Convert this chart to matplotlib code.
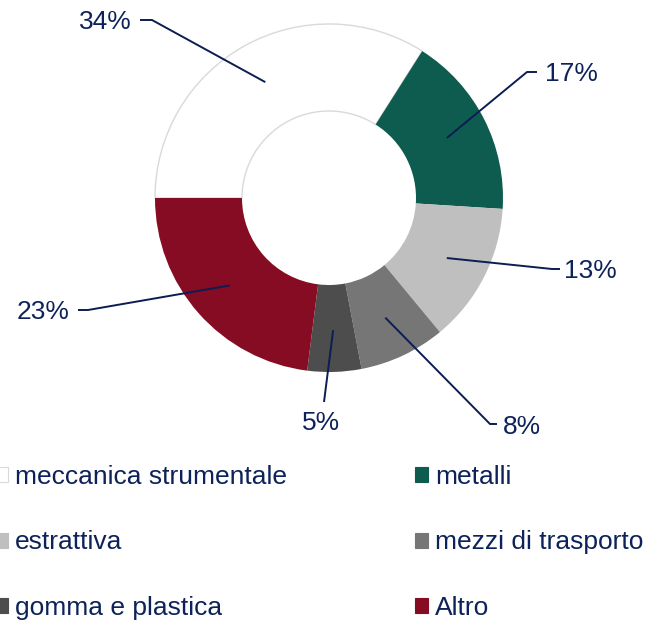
import matplotlib
matplotlib.use("Agg")
import matplotlib.pyplot as plt
import numpy as np
from matplotlib.patches import Patch

plt.rcParams["font.family"] = ["Liberation Sans", "DejaVu Sans"]

# ============================================================
# 数据
# ============================================================
categories = ["meccanica strumentale", "metalli", "estrattiva",
              "mezzi di trasporto", "gomma e plastica", "Altro"]
shares = [34, 17, 13, 8, 5, 23]
colors = ["#ffffff", "#0e5c4f", "#bfbfbf", "#767676", "#4d4d4d", "#850c22"]

# ============================================================
# 布局（像素坐标，y 向下）
# ============================================================
W, H = 650, 622
CENTER = (329, 198)
RADIUS = 174
NAVY = "#0d2258"
LINE = "#0b1d51"

# 每个标签：折点、水平线终点、文字位置、对齐
label_elbow = [(152, 20), (527, 72), (552, 269), (490, 424), (324, 402), (88, 310)]
label_end = [(140, 20), (537, 72), (560, 269), (497, 424), (324, 402), (78, 310)]
text_pos = [(132, 22), (545, 74), (564, 271), (503, 427), (321, 423), (70, 312)]
text_ha = ["right", "left", "left", "left", "center", "right"]


def px(x, y):
    return x, H - y


fig = plt.figure(figsize=(W / 100, H / 100), dpi=100)
ax = fig.add_axes([0, 0, 1, 1])

wedges, _ = ax.pie(
    shares, colors=colors, center=px(*CENTER), radius=RADIUS,
    startangle=180, counterclock=False,
    wedgeprops=dict(width=RADIUS / 2, linewidth=0),
)
wedges[0].set_edgecolor("#d9d9d9")
wedges[0].set_linewidth(1.0)

ax.set_xlim(0, W)
ax.set_ylim(0, H)
ax.set_aspect("equal")
ax.axis("off")

cx, cy = px(*CENTER)
for w, val, el, en, tp, ha in zip(wedges, shares, label_elbow, label_end, text_pos, text_ha):
    ang = np.deg2rad((w.theta1 + w.theta2) / 2)
    x0 = cx + 0.76 * RADIUS * np.cos(ang)
    y0 = cy + 0.76 * RADIUS * np.sin(ang)
    ex, ey = px(*el)
    hx, hy = px(*en)
    ax.plot([x0, ex, hx], [y0, ey, hy], color=LINE, lw=1.4, solid_capstyle="butt")
    tx, ty = px(*tp)
    ax.text(tx, ty, f"{val}%", ha=ha, va="center", fontsize=19, color=NAVY)

# 图例按行排列（matplotlib 按列填充，所以重排）
handles = [Patch(facecolor=c, edgecolor="#d9d9d9" if c == "#ffffff" else c, linewidth=0.8)
           for c in colors]
order = [0, 2, 4, 1, 3, 5]
fig.legend([handles[i] for i in order], [categories[i] for i in order],
           loc="upper left", bbox_to_anchor=(-0.008, 1 - 465 / H),
           ncol=2, frameon=False, fontsize=19, labelcolor=NAVY,
           handlelength=0.5, handleheight=0.5, handletextpad=0.25,
           labelspacing=1.57, columnspacing=4.87, borderpad=0, borderaxespad=0)

fig.savefig("out.png", dpi=100, facecolor="white")
